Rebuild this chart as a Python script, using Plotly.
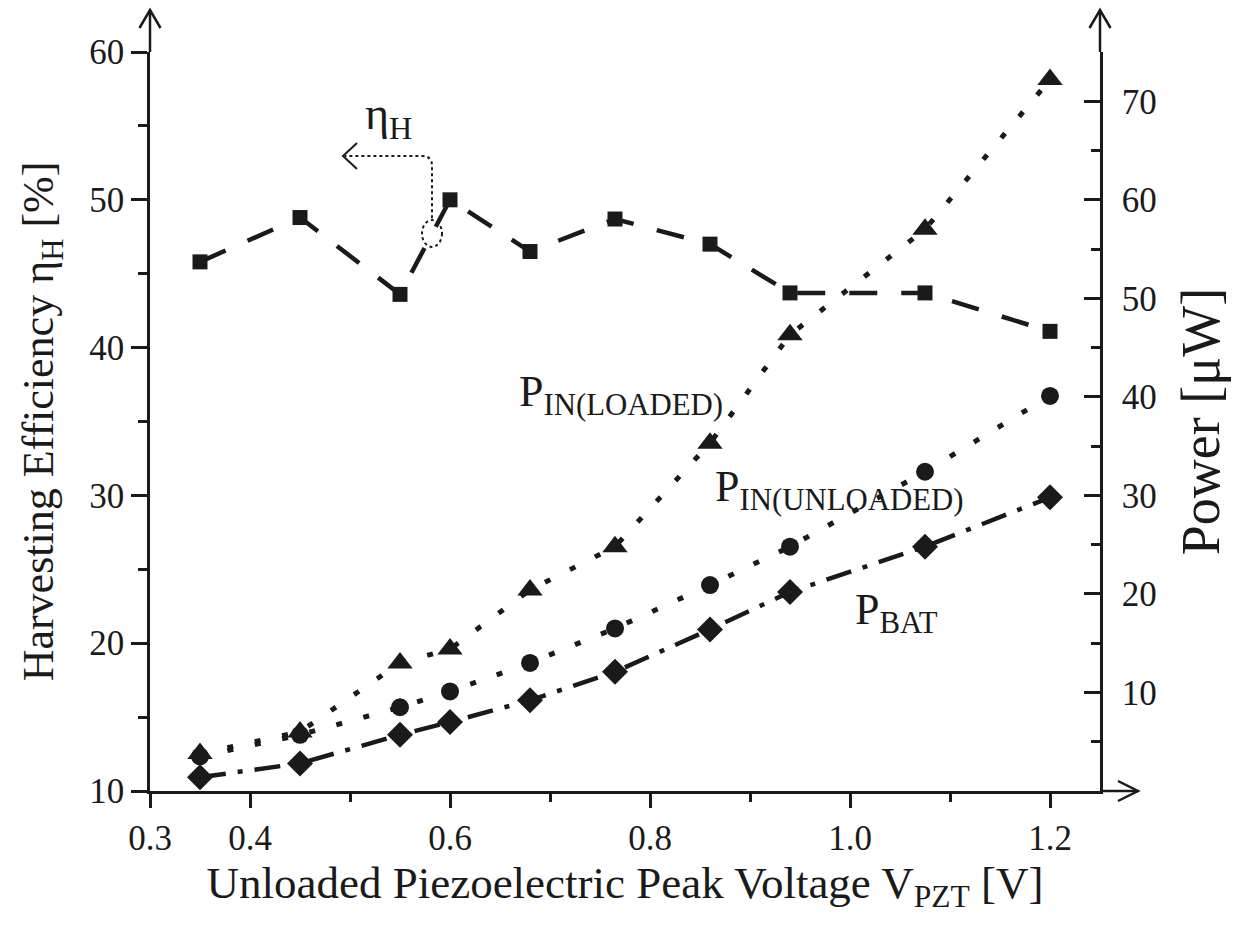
import plotly.graph_objects as go

# ---------------- data ----------------
vpzt = [0.35, 0.45, 0.55, 0.60, 0.68, 0.765, 0.86, 0.94, 1.075, 1.20]
eta_h = [45.8, 48.8, 43.6, 50.0, 46.5, 48.7, 47.0, 43.7, 43.7, 41.1]
p_in_loaded = [3.8, 6.0, 13.0, 14.4, 20.4, 24.8, 35.3, 46.3, 57.0, 72.2]
p_in_unloaded = [3.5, 5.7, 8.5, 10.1, 13.0, 16.5, 20.9, 24.8, 32.4, 40.1]
p_bat = [1.4, 2.8, 5.7, 7.0, 9.2, 12.1, 16.4, 20.2, 24.8, 29.8]

x_tickvals = [0.3, 0.4, 0.6, 0.8, 1.0, 1.2]
x_ticktext = ["0.3", "0.4", "0.6", "0.8", "1.0", "1.2"]
x_minor = [0.5, 0.7, 0.9, 1.1]
y_tickvals = [10, 20, 30, 40, 50, 60]
y_minor = [15, 25, 35, 45, 55]
y2_tickvals = [10, 20, 30, 40, 50, 60, 70]
y2_minor = [5, 15, 25, 35, 45, 55, 65, 75]

FONT = "Liberation Serif"
INK = "#1a1a1a"

fig = go.Figure()

fig.add_trace(go.Scatter(
    x=vpzt, y=eta_h, mode="lines+markers", name="ηH",
    line=dict(color=INK, width=4.5, dash="28px,24px"),
    marker=dict(symbol="square", size=15, color=INK),
    yaxis="y"))
fig.add_trace(go.Scatter(
    x=vpzt, y=p_in_loaded, mode="lines+markers", name="PIN(LOADED)",
    line=dict(color=INK, width=5, dash="6px,22px"),
    marker=dict(symbol="triangle-up", size=22, color=INK),
    yaxis="y2"))
fig.add_trace(go.Scatter(
    x=vpzt, y=p_in_unloaded, mode="lines+markers", name="PIN(UNLOADED)",
    line=dict(color=INK, width=5, dash="6px,22px"),
    marker=dict(symbol="circle", size=18, color=INK),
    yaxis="y2"))
fig.add_trace(go.Scatter(
    x=vpzt, y=p_bat, mode="lines+markers", name="PBAT",
    line=dict(color=INK, width=4.5, dash="26px,12px,5px,12px"),
    marker=dict(symbol="diamond", size=20, color=INK),
    yaxis="y2"))

# ---------------- layout ----------------
W, H = 1233, 938
L, R, T, B = 150, 133, 52, 147
PW, PH = W - L - R, H - T - B


def px(xp):
    return (xp - L) / PW


def py(yp):
    return (H - B - yp) / PH


axis_common = dict(
    showline=True, linewidth=2.5, linecolor=INK, showgrid=False, zeroline=False,
    tickcolor=INK, tickwidth=2.5, tickfont=dict(family=FONT, size=35, color=INK),
)

fig.update_layout(
    width=W, height=H,
    margin=dict(l=L, r=R, t=T, b=B, autoexpand=False),
    paper_bgcolor="white", plot_bgcolor="white",
    showlegend=False,
    font=dict(family=FONT, color=INK),
    xaxis=dict(
        range=[0.3, 1.25], tickmode="array", tickvals=x_tickvals, ticktext=x_ticktext,
        ticks="outside", ticklen=14,
        minor=dict(tickmode="array", tickvals=x_minor, ticks="outside", ticklen=8,
                   tickwidth=2.5, tickcolor=INK),
        title=dict(text="Unloaded Piezoelectric Peak Voltage V<sub>PZT</sub> [V]",
                   font=dict(family=FONT, size=45, color=INK), standoff=6),
        **axis_common),
    yaxis=dict(
        range=[10, 60], tickmode="array", tickvals=y_tickvals,
        ticks="outside", ticklen=16,
        minor=dict(tickmode="array", tickvals=y_minor, ticks="outside", ticklen=9,
                   tickwidth=2.5, tickcolor=INK),
        title=dict(text="Harvesting Efficiency η<sub>H</sub> [%]",
                   font=dict(family=FONT, size=44, color=INK), standoff=22),
        **axis_common),
    yaxis2=dict(
        range=[0, 75], overlaying="y", side="right", tickmode="array",
        tickvals=y2_tickvals, ticks="inside", ticklen=16, ticklabelstandoff=12,
        minor=dict(tickmode="array", tickvals=y2_minor, ticks="inside", ticklen=9,
                   tickwidth=2.5, tickcolor=INK),
        title=dict(text="Power [μW]", font=dict(family=FONT, size=54, color=INK),
                   standoff=26),
        **axis_common),
)

# ---------------- axis arrows (paper coordinates) ----------------
line_style = dict(color=INK, width=2.5)
shapes = []
# left axis extension + arrow
shapes.append(dict(type="line", xref="paper", yref="paper", x0=px(150), x1=px(150),
                   y0=py(52), y1=py(10), line=line_style))
shapes.append(dict(type="path", xref="paper", yref="paper",
                   path=f"M {px(139.5)},{py(28)} L {px(150)},{py(10)} L {px(160.5)},{py(28)}",
                   line=line_style))
# right axis extension + arrow
shapes.append(dict(type="line", xref="paper", yref="paper", x0=px(1100), x1=px(1100),
                   y0=py(52), y1=py(10), line=line_style))
shapes.append(dict(type="path", xref="paper", yref="paper",
                   path=f"M {px(1089.5)},{py(28)} L {px(1100)},{py(10)} L {px(1110.5)},{py(28)}",
                   line=line_style))
# x axis extension + arrow
shapes.append(dict(type="line", xref="paper", yref="paper", x0=px(1100), x1=px(1138),
                   y0=py(791), y1=py(791), line=line_style))
shapes.append(dict(type="path", xref="paper", yref="paper",
                   path=f"M {px(1118)},{py(781)} L {px(1138)},{py(791)} L {px(1118)},{py(801)}",
                   line=line_style))

# eta_H pointer (data coordinates of x and left y)
shapes.append(dict(type="path", xref="x", yref="y",
                   path="M 0.582,48.75 L 0.582,52.3 Q 0.582,52.96 0.572,52.96 L 0.495,52.96",
                   line=dict(color=INK, width=2, dash="dot")))
shapes.append(dict(type="path", xref="x", yref="y",
                   path="M 0.507,53.84 L 0.493,52.96 L 0.507,52.08",
                   line=dict(color=INK, width=2)))
shapes.append(dict(type="circle", xref="x", yref="y",
                   x0=0.572, x1=0.592, y0=46.81, y1=48.63,
                   line=dict(color=INK, width=2, dash="dot")))
fig.update_layout(shapes=shapes)

# ---------------- text labels ----------------
label_font = dict(family=FONT, size=44, color=INK)
annotations = [
    dict(x=0.513, y=55.6, text="η<sub>H</sub>", font=dict(family=FONT, size=46, color=INK)),
    dict(x=0.667, y=36.8, text="P<sub>IN(LOADED)</sub>", font=label_font),
    dict(x=0.863, y=30.4, text="P<sub>IN(UNLOADED)</sub>", font=label_font),
    dict(x=1.003, y=22.1, text="P<sub>BAT</sub>", font=label_font),
]
for a in annotations:
    a.update(xref="x", yref="y", xanchor="left", yanchor="middle", showarrow=False)
fig.update_layout(annotations=annotations)

fig.write_html("out.html")
